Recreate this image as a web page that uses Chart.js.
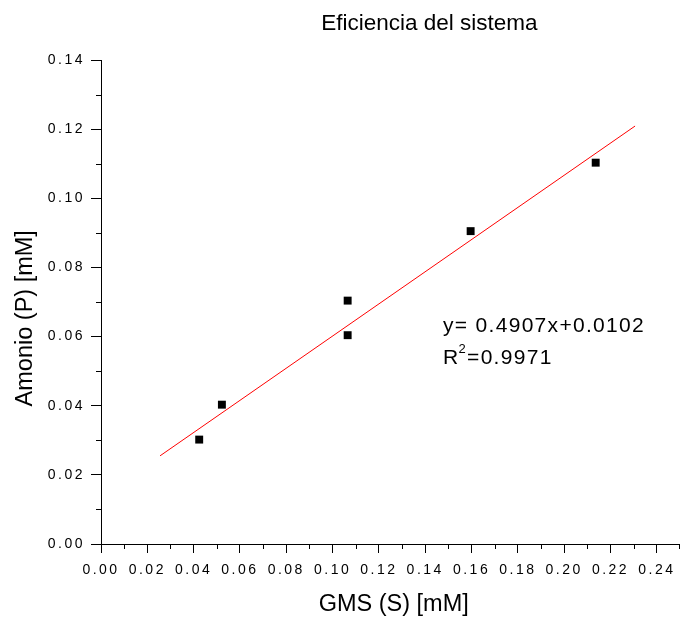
<!DOCTYPE html>
<html>
<head>
<meta charset="utf-8">
<script src="https://cdn.jsdelivr.net/npm/chart.js@4"></script>
<style>
  body { margin: 0; background: #fff; overflow: hidden; }
</style>
</head>
<body>
<canvas id="myChart" width="680" height="619"></canvas>
<script>
// datos
const gms = [0.0424, 0.0522, 0.1065, 0.1065, 0.1596, 0.2136];
const amonio = [0.0302, 0.0403, 0.0704, 0.0604, 0.0905, 0.1103];
// recta de ajuste (extremos)
const fitX = [0.0255, 0.2306];
const fitY = [0.0255, 0.1209];

const xTickLabels = ['0.00', '0.02', '0.04', '0.06', '0.08', '0.10', '0.12', '0.14', '0.16', '0.18', '0.20', '0.22', '0.24'];
const yTickLabels = ['0.00', '0.02', '0.04', '0.06', '0.08', '0.10', '0.12', '0.14'];

const titulo = 'Eficiencia del sistema';
const tituloX = 'GMS (S) [mM]';
const tituloY = 'Amonio (P) [mM]';
const ecuacion = 'y= 0.4907x+0.0102';
const r2 = '0.9971';

const ctx = document.getElementById('myChart');

// ticks menores + textos
const extras = {
  id: 'extras',
  beforeDraw(chart) {
    chart.ctx.letterSpacing = '2.5px';
  },
  beforeDatasetsDraw(chart) {
    chart.ctx.letterSpacing = '0px';
  },
  afterDraw(chart) {
    const c = chart.ctx;
    const x = chart.scales.x, y = chart.scales.y;
    const area = chart.chartArea;
    c.save();
    c.strokeStyle = '#000';
    c.lineWidth = 1;
    c.beginPath();
    // menores en x
    for (let i = 0; i < x.ticks.length; i++) {
      const v = x.ticks[i].value + 0.01;
      if (v > x.max + 1e-9) break;
      const px = Math.min(Math.round(x.getPixelForValue(v)), area.right - 1) + 0.5;
      c.moveTo(px, area.bottom);
      c.lineTo(px, area.bottom + 5);
    }
    // menores en y
    for (let i = 0; i < y.ticks.length - 1; i++) {
      const v = y.ticks[i].value + 0.01;
      const py = Math.round(y.getPixelForValue(v)) + 0.5;
      c.moveTo(area.left, py);
      c.lineTo(area.left - 5, py);
    }
    c.stroke();

    c.fillStyle = '#000';
    c.letterSpacing = '0px';
    c.textBaseline = 'alphabetic';
    c.textAlign = 'center';
    c.font = '22.5px "Liberation Sans", Arial, sans-serif';
    c.fillText(titulo, x.getPixelForValue(0.1418), 29.5);

    c.font = '23.5px "Liberation Sans", Arial, sans-serif';
    c.fillText(tituloX, x.getPixelForValue(0.1264), 611);

    c.save();
    c.translate(32, y.getPixelForValue(0.0653));
    c.rotate(-Math.PI / 2);
    c.fillText(tituloY, 0, 0);
    c.restore();

    c.textAlign = 'left';
    c.letterSpacing = '1.3px';
    c.font = '21px "Liberation Sans", Arial, sans-serif';
    const ex = x.getPixelForValue(0.1477);
    c.fillText(ecuacion, ex, 331.5);
    c.fillText('R', ex, 364);
    const rw = c.measureText('R').width;
    c.font = '13px "Liberation Sans", Arial, sans-serif';
    c.fillText('2', ex + rw - 1, 353);
    const sw = c.measureText('2').width;
    c.font = '21px "Liberation Sans", Arial, sans-serif';
    c.fillText('=' + r2, ex + rw + sw - 1, 364);
    c.restore();
  }
};

new Chart(ctx, {
  type: 'scatter',
  data: {
    datasets: [{
      label: 'Datos',
      data: gms.map((v, i) => ({ x: v, y: amonio[i] })),
      pointStyle: 'rect',
      pointRadius: 5.6,
      pointHoverRadius: 5.6,
      backgroundColor: '#000',
      borderColor: '#000',
      borderWidth: 0,
      order: 0
    }, {
      label: 'Ajuste',
      type: 'line',
      data: fitX.map((v, i) => ({ x: v, y: fitY[i] })),
      borderColor: '#ff0000',
      borderWidth: 1,
      pointRadius: 0,
      fill: false,
      order: 1
    }]
  },
  options: {
    responsive: false,
    animation: false,
    events: [],
    layout: { autoPadding: false, padding: { top: 60, right: 0, left: 0, bottom: 0 } },
    plugins: {
      legend: { display: false },
      title: { display: false },
      tooltip: { enabled: false }
    },
    scales: {
      x: {
        type: 'linear',
        min: 0,
        max: 0.25,
        afterBuildTicks: s => { s.ticks = xTickLabels.map(t => ({ value: parseFloat(t) })); },
        afterFit: s => { s.height = 75; },
        ticks: {
          autoSkip: false,
          maxRotation: 0,
          padding: 9,
          color: '#000',
          font: { family: '"Liberation Sans", Arial, sans-serif', size: 14 },
          callback: (v, i) => xTickLabels[i]
        },
        grid: { drawOnChartArea: false, drawTicks: true, tickLength: 9, color: '#000', tickColor: '#000' },
        border: { display: true, color: '#000', width: 1 }
      },
      y: {
        type: 'linear',
        min: 0,
        max: 0.14,
        afterBuildTicks: s => { s.ticks = yTickLabels.map(t => ({ value: parseFloat(t) })); },
        afterFit: s => { s.width = 101; },
        ticks: {
          autoSkip: false,
          padding: 6,
          color: '#000',
          font: { family: '"Liberation Sans", Arial, sans-serif', size: 14 },
          callback: (v, i) => yTickLabels[i]
        },
        grid: { drawOnChartArea: false, drawTicks: true, tickLength: 10, color: '#000', tickColor: '#000' },
        border: { display: true, color: '#000', width: 1 }
      }
    }
  },
  plugins: [extras]
});
</script>
</body>
</html>
